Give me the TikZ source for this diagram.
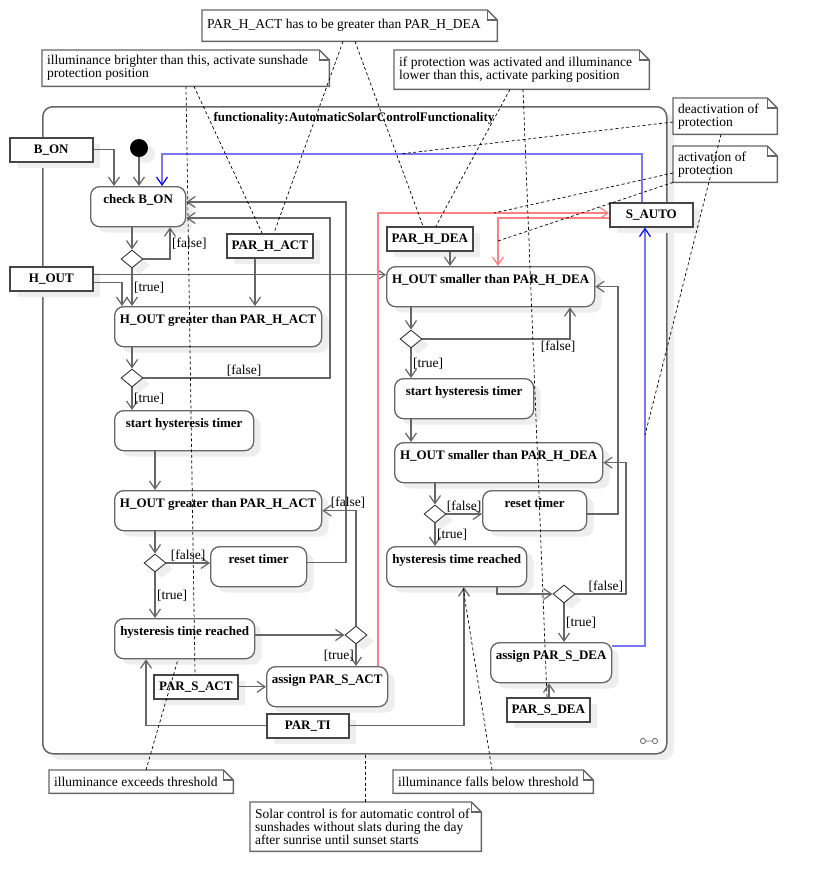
\documentclass[tikz,border=0pt]{standalone}
\usepackage{fontspec}
\setmainfont{Liberation Serif}
\usetikzlibrary{arrows.meta,shapes.geometric,shadows}

\definecolor{linegray}{RGB}{102,102,102}
\definecolor{pingray}{RGB}{70,70,70}
\definecolor{shadowgray}{RGB}{238,238,238}
\definecolor{deacblue}{RGB}{120,120,240}
\definecolor{actred}{RGB}{255,128,128}

\newcommand{\diagfont}{\fontsize{13}{13}\selectfont}
\newcommand{\notefont}{\fontsize{13.5}{13}\selectfont}
\newcommand{\notefold}[1]{%
  \draw[noteline] (#1.south west) -- (#1.north west) -- ([xshift=-10pt]#1.north east)
    -- ([yshift=-10pt]#1.north east) -- (#1.south east) -- cycle;
  \draw[noteline] ([xshift=-10pt]#1.north east) |- ([yshift=-10pt]#1.north east);}

\begin{document}
\begin{tikzpicture}[x=1pt, y=-1pt,
    castshadow/.style={drop shadow={shadow xshift=7pt, shadow yshift=-6pt, fill=shadowgray, opacity=1}},
    action/.style={draw=linegray, line width=1.3pt, rounded corners=9pt, fill=white, anchor=north west,
      font=\diagfont\bfseries, inner xsep=2pt, inner ysep=4pt, text height=13pt, text depth=19pt, castshadow},
    pin/.style={draw=pingray, line width=1.6pt, fill=white, anchor=north west, minimum height=24pt,
      inner sep=0pt, font=\diagfont\bfseries, castshadow},
    decision/.style={diamond, draw=black!80, line width=0.9pt, fill=white, minimum width=22pt,
      minimum height=18pt, inner sep=0pt, castshadow},
    initial/.style={circle, fill=black, minimum size=18pt, inner sep=0pt, castshadow},
    note/.style={fill=white, anchor=north west, align=flush left, inner xsep=5pt, inner ysep=0pt, font=\notefont},
    noteline/.style={draw=linegray, line width=1.4pt},
    flow/.style={draw=linegray, line width=1.2pt, -{Straight Barb[length=8pt,width=11pt]}},
    deactflow/.style={draw=deacblue, line width=1.2pt, -{Straight Barb[length=8pt,width=11pt,color=blue]}},
    actflow/.style={draw=actred, line width=1.2pt, -{Straight Barb[length=8pt,width=11pt]}},
    guard/.style={font=\notefont, inner sep=1.5pt},
    anchorline/.style={line width=0.7pt, dash pattern=on 3pt off 2.5pt}
]
\useasboundingbox (0,0) rectangle (818,892);

% activity frame
\node[draw=linegray, line width=1.5pt, rounded corners=10pt, fill=white, anchor=north west,
  minimum width=624pt, minimum height=647pt, inner sep=0pt, castshadow] (frame) at (42,106) {};
\node[font=\diagfont\bfseries] (frametitle) at (354,118) {functionality:AutomaticSolarControlFunctionality};
\draw[linegray, line width=0.8pt] (643,741) circle[radius=2.6pt] (645.6,741) -- (652.4,741)
  (655,741) circle[radius=2.6pt];

% pins
\node[pin, minimum width=83pt] (bon) at (9,137) {B\_ON};
\node[pin, minimum width=83pt] (hout) at (9,266) {H\_OUT};
\node[pin, minimum width=86pt] (parhact) at (226,233) {PAR\_H\_ACT};
\node[pin, minimum width=86pt] (parhdea) at (386,226) {PAR\_H\_DEA};
\node[pin, minimum width=83pt] (sauto) at (609,202) {S\_AUTO};
\node[pin, minimum width=84pt] (parsact) at (153,674) {PAR\_S\_ACT};
\node[pin, minimum width=82pt] (parti) at (266,713) {PAR\_TI};
\node[pin, minimum width=83pt] (parsdea) at (506,697) {PAR\_S\_DEA};

% actions
\node[action, minimum width=95pt] (checkbon) at (90,186) {check B\_ON};
\node[action, minimum width=207pt] (greatera) at (114,306) {H\_OUT greater than PAR\_H\_ACT};
\node[action, minimum width=139pt] (starta) at (114,410) {start hysteresis timer};
\node[action, minimum width=207pt] (greaterb) at (114,490) {H\_OUT greater than PAR\_H\_ACT};
\node[action, minimum width=96pt] (reseta) at (210,546) {reset timer};
\node[action, minimum width=140pt] (reacheda) at (114,618) {hysteresis time reached};
\node[action, minimum width=121pt] (assigna) at (266,666) {assign PAR\_S\_ACT};
\node[action, minimum width=208pt] (smallera) at (386,266) {H\_OUT smaller than PAR\_H\_DEA};
\node[action, minimum width=139pt] (startb) at (394,378) {start hysteresis timer};
\node[action, minimum width=208pt] (smallerb) at (394,442) {H\_OUT smaller than PAR\_H\_DEA};
\node[action, minimum width=104pt] (resetb) at (482,490) {reset timer};
\node[action, minimum width=140pt] (reachedb) at (386,546) {hysteresis time reached};
\node[action, minimum width=121pt] (assignb) at (490,642) {assign PAR\_S\_DEA};

% decisions
\node[decision] (d1) at (132,259) {};
\node[decision] (d2) at (132,378) {};
\node[decision] (d3) at (155,563) {};
\node[decision] (d4) at (356,635) {};
\node[decision] (d5) at (411,339) {};
\node[decision] (d6) at (435,514) {};
\node[decision] (d7) at (564,594) {};
\node[initial] (init) at (139,148) {};

% control flows
\draw[flow] (bon.east) -| (checkbon.north -| 114,0);
\draw[flow] (init) -- (init |- checkbon.north);
\draw[deactflow] (sauto.north -| 642,0) |- (162,154) -- (checkbon.north -| 162,0);
\draw[flow] (checkbon.south -| d1) -- (d1.north);
\draw[flow] (d1.east) -| node[guard, pos=0.75, right] {[false]} (checkbon.south -| 170,0);
\draw[flow] (d1.south) -- node[guard, right] {[true]} (greatera.north -| d1);
\draw[flow] ([yshift=-4pt]hout.east) -| (greatera.north -| 122,0);
\draw[flow] ([yshift=4pt]hout.east) -- ([yshift=4pt]hout.east -| smallera.west);
\draw[flow] (parhact.south -| 255,0) -- (greatera.north -| 255,0);
\draw[flow] (greatera.south -| d2) -- (d2.north);
\draw[flow] (d2.east) -- node[guard, above, pos=0.54] {[false]} (d2.east -| 330,0) |- (checkbon.east |- 0,218);
\draw[flow] (d2.south) -- node[guard, right] {[true]} (starta.north -| d2);
\draw[flow] (starta.south -| d3) -- (greaterb.north -| d3);
\draw[flow] (greaterb.south -| d3) -- (d3.north);
\draw[flow] (d3.east) -- node[guard, above] {[false]} (reseta.west |- d3);
\draw[flow] ([yshift=4pt]reseta.east) -| ([yshift=-16pt]checkbon.north east -| 346,0)
  -- ([yshift=-16pt]checkbon.north east);
\draw[flow] (d3.south) -- node[guard, right] {[true]} (reacheda.north -| d3);
\draw[flow] (reacheda.east |- d4) -- (d4.west);
\draw[flow] (d4.north) |- node[guard, above, pos=0.5, xshift=-8pt] {[false]} (greaterb.east);
\draw[flow] (d4.south) -- node[guard, left] {[true]} (assigna.north -| d4);
\draw[flow] (parsact.east) -- (parsact.east -| assigna.west);
\draw[flow] (parti.west) -| (reacheda.south -| 146,0);
\draw[flow] (parti.east) -| (reachedb.south -| 464,0);
\draw[actflow] (assigna.north -| 378,0) |- (sauto.west |- 0,213);
\draw[actflow] (sauto.west |- 0,218) -| (smallera.north -| 498,0);
\draw[flow] (parhdea.south -| 450,0) -- (smallera.north -| 450,0);
\draw[flow] (smallera.south -| d5) -- (d5.north);
\draw[flow] (d5.east) -| node[guard, below, pos=0.5, xshift=-12pt] {[false]} (smallera.south -| 570,0);
\draw[flow] (d5.south) -- node[guard, right] {[true]} (startb.north -| d5);
\draw[flow] (startb.south -| d5) -- (smallerb.north -| d5);
\draw[flow] (smallerb.south -| d6) -- (d6.north);
\draw[flow] (d6.east) -- node[guard, above] {[false]} (resetb.west |- d6);
\draw[flow] (resetb.east |- d6) -| (smallera.east -| 618,0) -- (smallera.east);
\draw[flow] (d6.south) -- node[guard, right] {[true]} (reachedb.north -| d6);
\draw[flow] (reachedb.south -| 497,0) |- (d7.west);
\draw[flow] (d7.east) -| node[guard, above, pos=0.3] {[false]} (smallerb.east -| 626,0) -- (smallerb.east);
\draw[flow] (d7.south) -- node[guard, right] {[true]} (assignb.north -| d7);
\draw[flow] (parsdea.north -| 549,0) -- (assignb.south -| 549,0);
\draw[deactflow] ([yshift=-4pt]assignb.north east) -| (sauto.south -| 645,0);

% notes
\node[note, text width=285pt, minimum height=31pt] (notegreater) at (202,10) {PAR\_H\_ACT has to be greater than PAR\_H\_DEA};
\node[note, text width=277pt, minimum height=36pt] (notebright) at (42,50) {illuminance brighter than this, activate sunshade\\protection position};
\node[note, text width=245pt, minimum height=39pt] (noteprotect) at (394,50) {if protection was activated and illuminance\\lower than this, activate parking position};
\node[note, text width=94pt, minimum height=36pt] (notedeact) at (673,98) {deactivation of\\protection};
\node[note, text width=94pt, minimum height=36pt] (noteact) at (673,146) {activation of\\protection};
\node[note, text width=174pt, minimum height=23pt] (noteexceed) at (49,770) {illuminance exceeds threshold};
\node[note, text width=190pt, minimum height=23pt] (notefalls) at (393,770) {illuminance falls below threshold};
\node[note, text width=221pt, minimum height=49pt] (notesolar) at (250,802) {Solar control is for automatic control of\\sunshades without slats during the day\\after sunrise until sunset starts};
\foreach \n in {notegreater,notebright,noteprotect,notedeact,noteact,noteexceed,notefalls,notesolar}
  \notefold{\n};

% note anchors
\coordinate (deacttop) at (400,154);
\coordinate (deactright) at (645,435);
\coordinate (acttop) at (494,213);
\coordinate (actleft) at (498,241);
\draw[anchorline] (notegreater.south -| 343,0) -- (parhact.north -| 274,0);
\draw[anchorline] (notegreater.south -| 355,0) -- (parhdea.north -| 423,0);
\draw[anchorline] (notebright.south -| 186,0) -- (parsact.north -| 195,0);
\draw[anchorline] (notebright.south -| 194,0) -- (parhact.north -| 262,0);
\draw[anchorline] (noteprotect.south -| 510,0) -- (parhdea.north -| 436,0);
\draw[anchorline] (noteprotect.south -| 523,0) -- (parsdea.north -| 547,0);
\draw[anchorline] (notedeact.west |- 0,122) -- (deacttop);
\draw[anchorline] (notedeact.south -| 721,0) -- (deactright);
\draw[anchorline] (noteact.west |- 0,173) -- (acttop);
\draw[anchorline] (noteact.south west) -- (actleft);
\draw[anchorline] (noteexceed.north -| 146,0) -- (reacheda.south -| 178,0);
\draw[anchorline] (notefalls.north -| 492,0) -- (reachedb.south -| 463,0);
\draw[anchorline] (notesolar.north -| 365,0) -- (frame.south -| 365,0);
\end{tikzpicture}
\end{document}
